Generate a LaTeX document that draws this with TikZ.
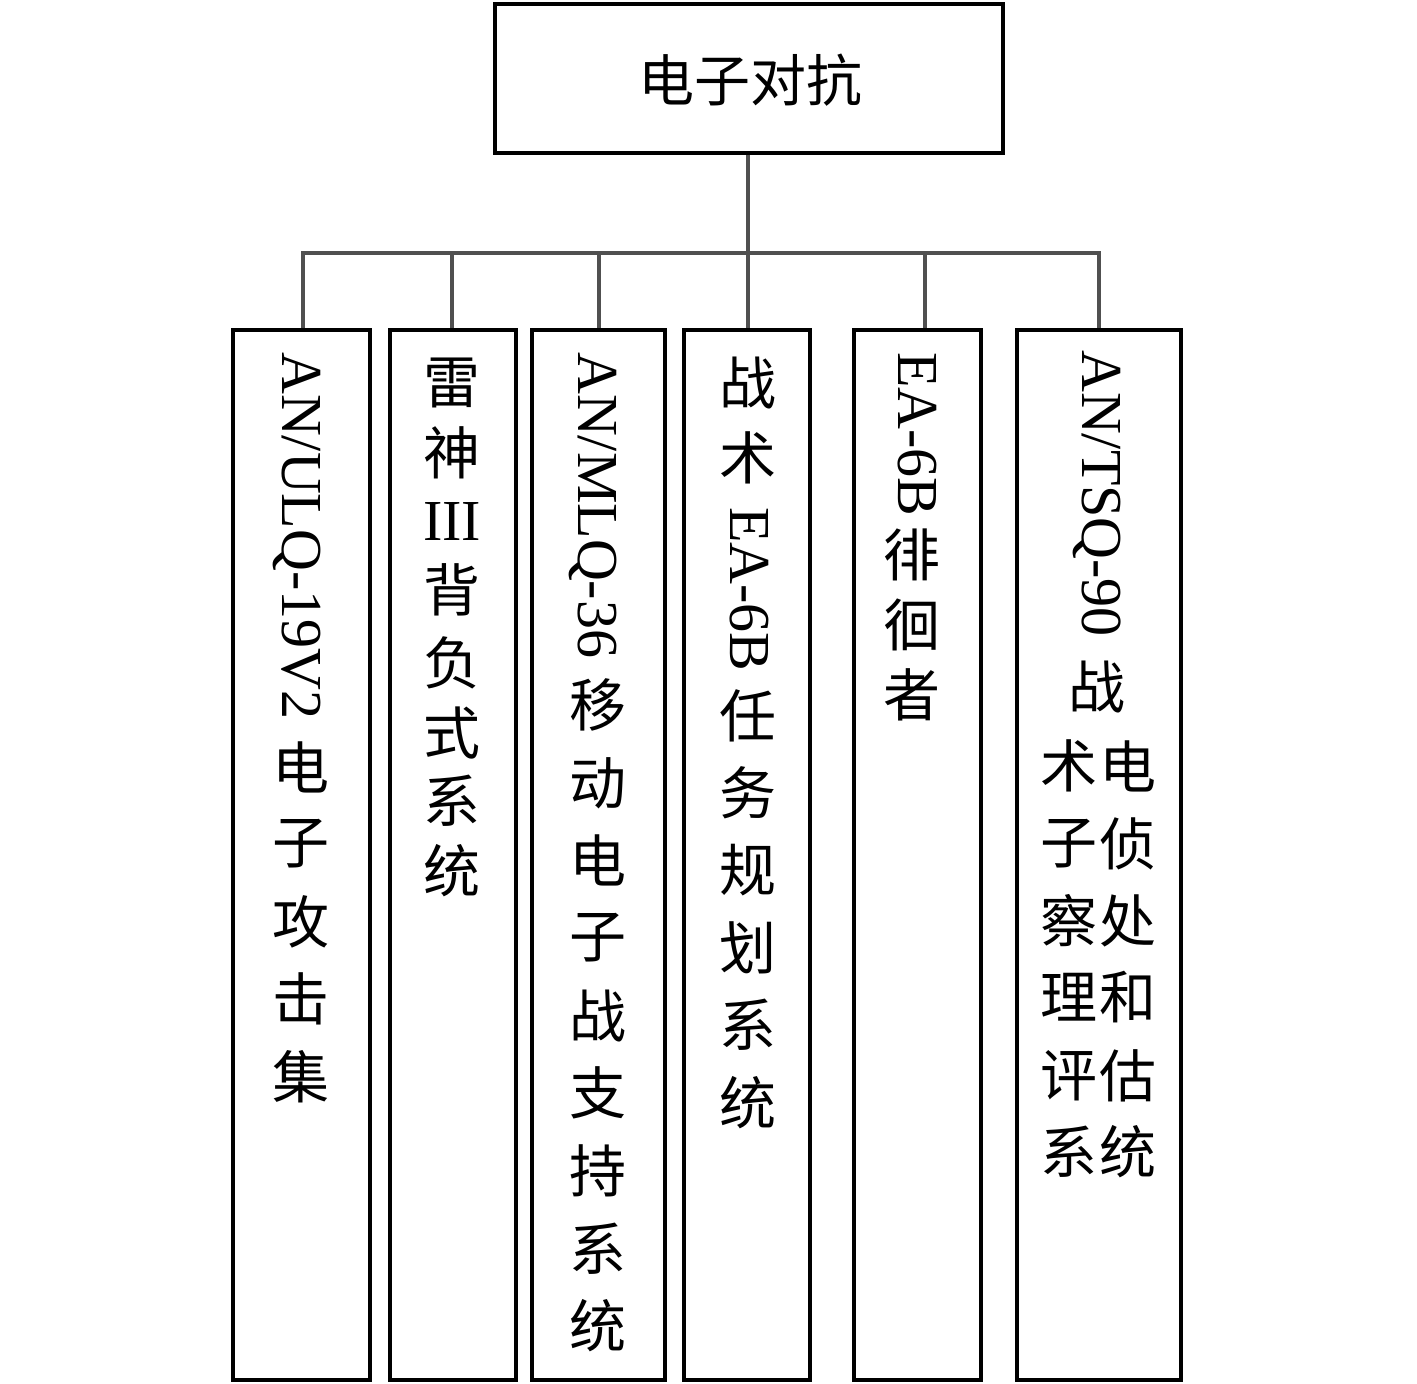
\documentclass[tikz,border=0pt]{standalone}
\usepackage{fontspec}
\setmainfont{Liberation Serif}
\newfontfamily\cjk{Noto Sans CJK SC}
\definecolor{conncol}{RGB}{80,80,80}
\begin{document}
\begin{tikzpicture}[x=1pt,y=-1pt,
  box/.style={draw=black,line width=4pt,inner sep=0pt,minimum height=1050pt},
  conn/.style={draw=conncol,line width=3.2pt},
  zi/.style={inner sep=0pt,font=\cjk\fontsize{57}{57}\selectfont},
  upl/.style={inner sep=0pt,font=\fontsize{58}{58}\selectfont},
  lat/.style={inner sep=0pt,rotate=-90,anchor=base west,font=\fontsize{58}{58}\selectfont}]
\useasboundingbox (0,0) rectangle (1417,1384);

% boxes
\node[draw=black,line width=4pt,inner sep=0pt,minimum width=508pt,minimum height=149pt] (top) at (749,78.5) {};
\node[box,minimum width=137pt] (b1) at (301.5,855) {};
\node[box,minimum width=126pt] (b2) at (453,855) {};
\node[box,minimum width=133pt] (b3) at (598.5,855) {};
\node[box,minimum width=126pt] (b4) at (747,855) {};
\node[box,minimum width=127pt] (b5) at (917.5,855) {};
\node[box,minimum width=164pt] (b6) at (1099,855) {};

% connectors
\coordinate (j1) at (303,253);
\coordinate (j2) at (452,253);
\coordinate (j3) at (599,253);
\coordinate (j4) at (748,253);
\coordinate (j5) at (925,253);
\coordinate (j6) at (1099,253);
\draw[conn] (j1 |- b1.north) -- (j1) -- (j6) -- (j6 |- b6.north);
\draw[conn] (j4 |- top.south) -- (j4);
\draw[conn] (j2) -- (j2 |- b2.north);
\draw[conn] (j3) -- (j3 |- b3.north);
\draw[conn] (j4) -- (j4 |- b4.north);
\draw[conn] (j5) -- (j5 |- b5.north);

% top text
\node[inner sep=0pt,font=\cjk\fontsize{56}{56}\selectfont] (ttop) at (750,80) {电子对抗};

% box 1
\node[lat] (l1) at (282,352) {AN/ULQ-19V2};
\node[zi] (c1a) at (301,767) {电};
\node[zi] (c1b) at (301,844) {子};
\node[zi] (c1c) at (301,922) {攻};
\node[zi] (c1d) at (301,999) {击};
\node[zi] (c1e) at (301,1077) {集};

% box 2
\node[zi] (c2a) at (452,383) {雷};
\node[zi] (c2b) at (452,453) {神};
\node[upl] (c2c) at (452,522) {III};
\node[zi] (c2d) at (452,590) {背};
\node[zi] (c2e) at (452,663) {负};
\node[zi] (c2f) at (452,733) {式};
\node[zi] (c2g) at (452,801) {系};
\node[zi] (c2h) at (452,871) {统};

% box 3
\node[lat] (l3) at (578,352) {AN/MLQ-36};
\node[zi] (c3a) at (598,705) {移};
\node[zi] (c3b) at (598,783) {动};
\node[zi] (c3c) at (598,860) {电};
\node[zi] (c3d) at (598,938) {子};
\node[zi] (c3e) at (598,1016) {战};
\node[zi] (c3f) at (598,1093) {支};
\node[zi] (c3g) at (598,1171) {持};
\node[zi] (c3h) at (598,1249) {系};
\node[zi] (c3i) at (598,1326) {统};

% box 4
\node[zi] (c4a) at (748,383) {战};
\node[zi] (c4b) at (748,458) {术};
\node[lat] (l4) at (730,507) {EA-6B};
\node[zi] (c4c) at (748,716) {任};
\node[zi] (c4d) at (748,793) {务};
\node[zi] (c4e) at (748,870) {规};
\node[zi] (c4f) at (748,948) {划};
\node[zi] (c4g) at (748,1025) {系};
\node[zi] (c4h) at (748,1103) {统};

% box 5
\node[lat] (l5) at (898,352) {EA-6B};
\node[zi] (c5a) at (912,555) {徘};
\node[zi] (c5b) at (912,625) {徊};
\node[zi] (c5c) at (912,695) {者};

% box 6
\node[lat] (l6) at (1082,350) {AN/TSQ-90};
\node[zi] (c6a) at (1097,687) {战};
\node[zi] (c6b) at (1069,766) {术};
\node[zi] (c6c) at (1128,766) {电};
\node[zi] (c6d) at (1069,844) {子};
\node[zi] (c6e) at (1128,844) {侦};
\node[zi] (c6f) at (1069,921) {察};
\node[zi] (c6g) at (1128,921) {处};
\node[zi] (c6h) at (1069,997) {理};
\node[zi] (c6i) at (1128,997) {和};
\node[zi] (c6j) at (1069,1076) {评};
\node[zi] (c6k) at (1128,1076) {估};
\node[zi] (c6l) at (1069,1152) {系};
\node[zi] (c6m) at (1128,1152) {统};
\end{tikzpicture}
\end{document}
